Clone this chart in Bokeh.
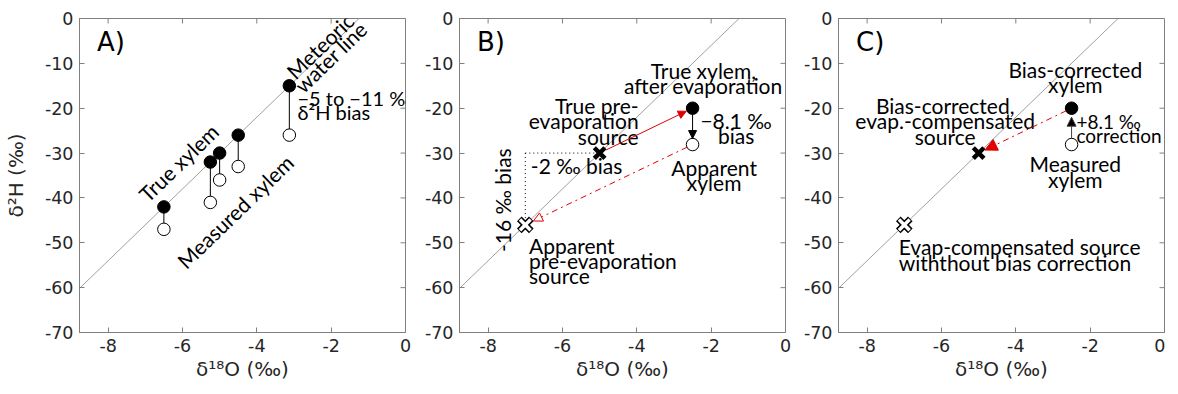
import math
from bokeh.plotting import figure
from bokeh.models import Range1d, FixedTicker, Arrow, NormalHead
from bokeh.layouts import row
from bokeh.embed import file_html
from bokeh.resources import INLINE
from bokeh.core.properties import value

# ---------------- data ----------------
x_ticks = [-8, -6, -4, -2, 0]
x_tick_labels = ["-8", "-6", "-4", "-2", "0"]
y_ticks = [-70, -60, -50, -40, -30, -20, -10, 0]
y_tick_labels = ["-70", "-60", "-50", "-40", "-30", "-20", "-10", "0"]

mwl_x = [-8.75, -1.25]
mwl_y = [-60.0, 0.0]

# Panel A
true_xylem_o = [-6.5, -5.25, -5.0, -4.5, -3.125]
true_xylem_h = [-42.0, -32.0, -30.0, -26.0, -15.0]
meas_xylem_h = [-47.0, -41.0, -36.0, -33.0, -26.0]

# Panels B / C
source_true = [-5.0, -30.0]
xylem_evap = [-2.5, -20.0]
xylem_apparent = [-2.5, -28.1]
source_apparent = [-7.0, -46.0]

# ---------------- layout / style ----------------
X0, X1, Y0, Y1 = -8.77, 0.0, -70.0, 0.0
FW, FH = 326, 314
KX = FW / (X1 - X0)
KY = FH / (Y1 - Y0)
RED = "#e00000"
AXC = "#808080"
TXT = "#262626"
NOTE_FONT = "Lato"
NOTE_SIZE = "21px"
DEG = math.pi / 180.0
MWL_ANGLE = math.atan2(8 * KY, KX)


def shorten(p, q, r0, r1):
    dx = (q[0] - p[0]) * KX
    dy = (q[1] - p[1]) * KY
    L = math.hypot(dx, dy)
    ux, uy = dx / L, dy / L
    s = (p[0] + ux * r0 / KX, p[1] + uy * r0 / KY)
    e = (q[0] - ux * r1 / KX, q[1] - uy * r1 / KY)
    return s, e


def make_fig(left, right, ylabel, tag):
    p = figure(frame_width=FW, frame_height=FH, x_range=Range1d(X0, X1), y_range=Range1d(Y0, Y1),
               output_backend="svg", toolbar_location=None,
               min_border_left=left, min_border_right=right,
               min_border_top=18, min_border_bottom=50,
               x_axis_label="δ¹⁸O (‰)", y_axis_label=ylabel)
    p.grid.visible = False
    p.outline_line_color = AXC
    p.background_fill_color = "white"
    p.border_fill_color = "white"
    for ax in p.xaxis:
        ax.ticker = FixedTicker(ticks=x_ticks)
        ax.major_label_overrides = {t: l for t, l in zip(x_ticks, x_tick_labels)}
        ax.axis_label_standoff = 2
    for ax in p.yaxis:
        ax.ticker = FixedTicker(ticks=y_ticks)
        ax.major_label_overrides = {t: l for t, l in zip(y_ticks, y_tick_labels)}
        ax.axis_label_standoff = 14
    for ax in list(p.xaxis) + list(p.yaxis):
        ax.axis_line_color = AXC
        ax.major_tick_line_color = AXC
        ax.major_tick_in = 5
        ax.major_tick_out = 0
        ax.minor_tick_line_color = None
        ax.major_label_text_font = "DejaVu Sans"
        ax.major_label_text_font_size = "17.5px"
        ax.major_label_text_color = TXT
        ax.major_label_standoff = 6
        ax.axis_label_text_font = "DejaVu Sans"
        ax.axis_label_text_font_size = "20px"
        ax.axis_label_text_font_style = "normal"
        ax.axis_label_text_color = TXT
    # mirrored (box) ticks on top and right, driven by the tick arrays
    p.segment(x0=x_ticks, y0=[Y1] * len(x_ticks), x1=x_ticks,
              y1=[Y1 - 5 / KY] * len(x_ticks), line_color=AXC, line_width=1)
    p.segment(x0=[X1] * len(y_ticks), y0=y_ticks, x1=[X1 - 5 / KX] * len(y_ticks),
              y1=y_ticks, line_color=AXC, line_width=1)
    p.line(mwl_x, mwl_y, line_color="#a0a0a0", line_width=1)
    p.text(x=[-8.3], y=[-5.3], text=[tag], text_font=value("DejaVu Sans"),
           text_font_size="26px", text_align="left", text_baseline="middle", text_color="black")
    return p


def note(p, x, y, txt, align="center", angle=0.0, size=NOTE_SIZE):
    p.text(x=[x], y=[y], text=[txt], text_font=value(NOTE_FONT), text_font_size=size,
           text_align=align, text_baseline="middle", angle=angle, text_line_height=0.61,
           text_color="black")


def arrow(p, s, e, color, dash="solid", size=9, fill=None):
    head = NormalHead(size=size, line_color=color, line_width=1,
                      fill_color=fill if fill is not None else color)
    p.add_layout(Arrow(end=head, x_start=s[0], y_start=s[1], x_end=e[0], y_end=e[1],
                       line_color=color, line_width=1, line_dash=dash))


def filled(p, pt):
    p.scatter([pt[0]], [pt[1]], marker="circle", size=12.5, fill_color="black", line_color="black")


def opencirc(p, pt):
    p.scatter([pt[0]], [pt[1]], marker="circle", size=12.5, fill_color="white",
              line_color="black", line_width=1)


def black_x(p, pt):
    p.scatter([pt[0]], [pt[1]], marker="x", size=15, line_color="black", line_width=4.5)


def open_x(p, pt):
    p.scatter([pt[0]], [pt[1]], marker="x", size=17, line_color="black", line_width=6.5)
    p.scatter([pt[0]], [pt[1]], marker="x", size=15, line_color="white", line_width=3.5)


# ---------------- Panel A ----------------
pA = make_fig(76, 14, "δ²H (‰)", "A)")
pA.segment(x0=true_xylem_o, y0=true_xylem_h, x1=true_xylem_o, y1=meas_xylem_h,
           line_color="black", line_width=1)
pA.scatter(true_xylem_o, meas_xylem_h, marker="circle", size=12.5, fill_color="white",
           line_color="black", line_width=1)
pA.scatter(true_xylem_o, true_xylem_h, marker="circle", size=12.5, fill_color="black",
           line_color="black")
note(pA, -6.107, -32.1, "True xylem", angle=MWL_ANGLE)
note(pA, -4.587, -43.0, "Measured xylem", angle=MWL_ANGLE)
note(pA, -2.16, -7.3, "Meteoric\nwater line", angle=MWL_ANGLE)
note(pA, -2.907, -19.3, "−5 to −11 ‰\nδ²H bias", align="left", size="20px")

# ---------------- Panel B ----------------
pB = make_fig(40, 13, None, "B)")
pB.line([source_apparent[0], source_true[0]], [source_true[1], source_true[1]],
        line_color="black", line_width=1, line_dash="1 3")
pB.line([source_apparent[0], source_apparent[0]], [source_true[1], source_apparent[1]],
        line_color="black", line_width=1, line_dash="1 3")
s, e = shorten(source_true, xylem_evap, 7, 7)
arrow(pB, s, e, RED, size=8)
s, e = shorten(xylem_evap, xylem_apparent, 5, 6)
arrow(pB, s, e, "black", size=8)
s, e = shorten(xylem_apparent, source_apparent, 6, 9)
arrow(pB, s, e, RED, dash="dashdot", size=9, fill="white")
filled(pB, xylem_evap)
opencirc(pB, xylem_apparent)
black_x(pB, source_true)
open_x(pB, source_apparent)
note(pB, -3.95, -22.8, "True pre-\nevaporation\nsource", align="right")
note(pB, -6.85, -32.7, "-2 ‰ bias", align="left")
note(pB, -7.6, -40.5, "-16 ‰ bias", angle=90 * DEG)
note(pB, -2.21, -13.3, "True xylem,\nafter evaporation")
note(pB, -1.33, -24.4, "−8.1 ‰\nbias")
note(pB, -1.92, -34.9, "Apparent\nxylem")
note(pB, -6.9, -54.0, "Apparent\npre-evaporation\n source", align="left")

# ---------------- Panel C ----------------
pC = make_fig(40, 1, None, "C)")
s, e = shorten(xylem_evap, source_true, 6, 7)
arrow(pC, s, e, RED, dash="dashdot", size=12)
s, e = shorten(xylem_apparent, xylem_evap, 6, 9)
arrow(pC, s, e, "#404040", size=9, fill="black")
filled(pC, xylem_evap)
opencirc(pC, xylem_apparent)
black_x(pC, source_true)
open_x(pC, source_apparent)
note(pC, -2.4, -13.0, "Bias-corrected\nxylem")
note(pC, -5.9, -22.8, "Bias-corrected,\nevap.-compensated\nsource")
note(pC, -2.37, -24.6, "+8.1 ‰\ncorrection", align="left", size="19px")
note(pC, -2.4, -34.1, "Measured\nxylem")
note(pC, -7.15, -52.6, "Evap-compensated source\nwiththout bias correction", align="left")

layout = row(pA, pB, pC)
open("out.html", "w").write(file_html(layout, INLINE))
